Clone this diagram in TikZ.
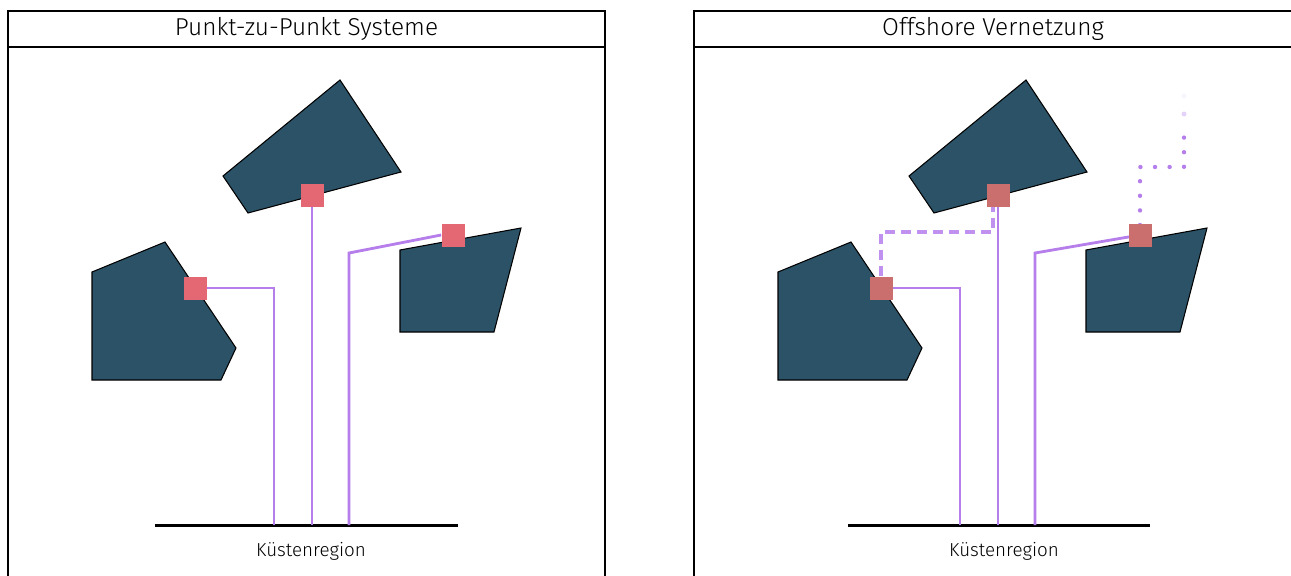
\documentclass[tikz,border=0pt]{standalone}
\usepackage{fontspec}
\setmainfont{Fira Sans}[UprightFont=* Light]
\usepackage{tikz}
\usetikzlibrary{calc,positioning}
\usepackage{xcolor}
\definecolor{seaField}{RGB}{43,82,102}
\definecolor{cableV}{RGB}{181,126,235}
\definecolor{hubA}{RGB}{227,104,116}
\definecolor{hubB}{RGB}{203,110,110}

\begin{document}
\begin{tikzpicture}[x=0.02cm,y=-0.02cm,
    frame/.style={line width=0.9pt,black},
    field/.style={fill=seaField,draw=black,line width=0.6pt},
    hub/.style={minimum size=23*0.02cm,inner sep=0pt,fill=#1},
    cable/.style={cableV,line width=1.6pt},
    coast/.style={line width=1.7pt,black},
    dotline/.style={cableV,line width=2.5pt,line cap=round,dash pattern=on 0pt off 14.6*0.02cm}]
  \clip (0,0) rectangle (1291,575);
  % ---- left panel: point to point
  \draw[frame] (8,590) -- (8,11) -- (605,11) -- (605,590);
  \draw[frame] (8,47) -- (605,47);
  \node[font=\fontsize{13.9}{16}\selectfont] (titleL) at (306.5,29) {Punkt-zu-Punkt Systeme};
  \draw[field] (223,176) -- (340,80) -- (401,172) -- (248,213) -- cycle;
  \draw[field] (92,272) -- (165,242) -- (236,348) -- (221,380) -- (92,380) -- cycle;
  \draw[field] (400,250) -- (521,228) -- (494,332) -- (400,332) -- cycle;
  \draw[coast] (155,525) coordinate (coastLw) -- (458,525) coordinate (coastLe);
  \node[font=\fontsize{10.7}{12}\selectfont] (coastL) at (311,551) {Küstenregion};
  \node[hub=hubA] (hubLa) at (195,288) {};
  \node[hub=hubA] (hubLb) at (312,195) {};
  \node[hub=hubA] (hubLc) at (453,235) {};
  \coordinate (landLa) at (274,525);
  \coordinate (landLb) at (312,525);
  \coordinate (landLc) at (349,525);
  \draw[cable] (hubLa.east) -| (landLa);
  \draw[cable] (hubLb.south) -- (landLb);
  \draw[cable] (hubLc.west) -- (349,253) -- (landLc);
  % ---- right panel: offshore grid
  \draw[frame] (694,590) -- (694,11) -- (1300,11);
  \draw[frame] (694,47) -- (1300,47);
  \node[font=\fontsize{13.9}{16}\selectfont] (titleR) at (993,29) {Offshore Vernetzung};
  \draw[field] (909,176) -- (1026,80) -- (1087,172) -- (934,213) -- cycle;
  \draw[field] (778,272) -- (851,242) -- (922,348) -- (907,380) -- (778,380) -- cycle;
  \draw[field] (1086,250) -- (1207,228) -- (1180,332) -- (1086,332) -- cycle;
  \draw[coast] (848,525) coordinate (coastRw) -- (1150,525) coordinate (coastRe);
  \node[font=\fontsize{10.7}{12}\selectfont] (coastR) at (1004,551) {Küstenregion};
  \coordinate (landRa) at (960,525);
  \coordinate (landRb) at (998,525);
  \coordinate (landRc) at (1035,525);
  \draw[cable] (881,288) -| (landRa);
  \draw[cable] (998,195) -- (landRb);
  \draw[cable] (1140,235) -- (1035,253) -- (landRc);
  \draw[cable,line width=1.9pt,cableV!85,dash pattern=on 10*0.02cm off 6*0.02cm] (881,276) -- (881,232) -- (993,232) -- (993,207);
  \draw[dotline] (1140,225) -- (1140,167) -- (1184,167) -- (1184,131);
  \fill[cableV,opacity=0.35] (1184,114) circle (2.5);
  \fill[cableV,opacity=0.08] (1184,96) circle (2.5);
  \node[hub=hubB] (hubRa) at (881,288) {};
  \node[hub=hubB] (hubRb) at (998,195) {};
  \node[hub=hubB] (hubRc) at (1140,235) {};
\end{tikzpicture}
\end{document}
